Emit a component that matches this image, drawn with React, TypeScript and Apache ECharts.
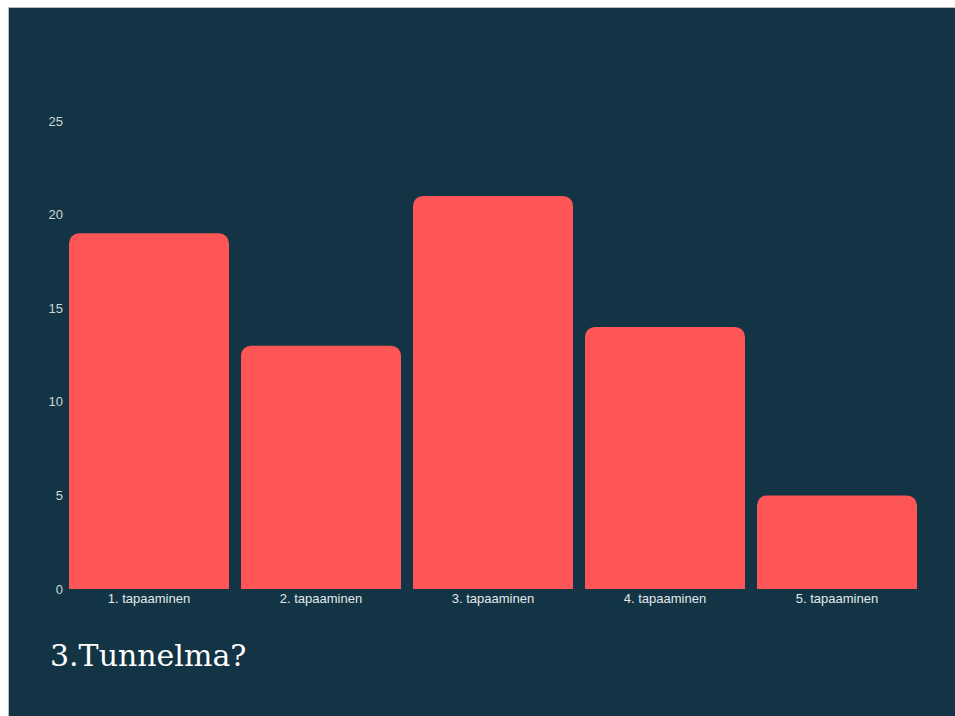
import React, { useEffect, useRef } from "react";
import * as echarts from "echarts";

const categories = ["1. tapaaminen", "2. tapaaminen", "3. tapaaminen", "4. tapaaminen", "5. tapaaminen"];
const values = [19, 13, 21, 14, 5];
const yTicks = [0, 5, 10, 15, 20, 25];
const titleText = "3.Tunnelma?";

export default function App() {
  const ref = useRef<HTMLDivElement>(null);
  useEffect(() => {
    if (!ref.current) return;
    const chart = echarts.init(ref.current, null, { renderer: "svg" });
    chart.setOption({
      animation: false,
      backgroundColor: "#123445",
      grid: { left: 54, right: 32, top: 113, bottom: 127 },
      xAxis: {
        type: "category",
        data: categories,
        axisLine: { show: false },
        axisTick: { show: false },
        axisLabel: { color: "#e4e8ea", fontSize: 13, fontFamily: "Liberation Sans", margin: 3 },
      },
      yAxis: {
        type: "value",
        min: yTicks[0],
        max: yTicks[yTicks.length - 1],
        interval: 5,
        splitLine: { show: false },
        axisLine: { show: false },
        axisTick: { show: false },
        axisLabel: { color: "#d0d6da", fontSize: 13, fontFamily: "Liberation Sans", margin: 0 },
      },
      series: [
        {
          type: "bar",
          data: values,
          barCategoryGap: 12,
          itemStyle: { color: "#fe5556", borderRadius: [10, 10, 0, 0] },
        },
      ],
      graphic: [
        {
          type: "text",
          left: 41,
          top: 632,
          style: { text: titleText, fill: "#ffffff", font: "30px 'DejaVu Serif'" },
        },
      ],
    });
    return () => chart.dispose();
  }, []);
  return (
    <div
      ref={ref}
      style={{ position: "absolute", left: 8, top: 7, width: 947, height: 709, borderLeft: "1px solid #bbb", borderTop: "1px solid #bbb", boxSizing: "border-box" }}
    />
  );
}
